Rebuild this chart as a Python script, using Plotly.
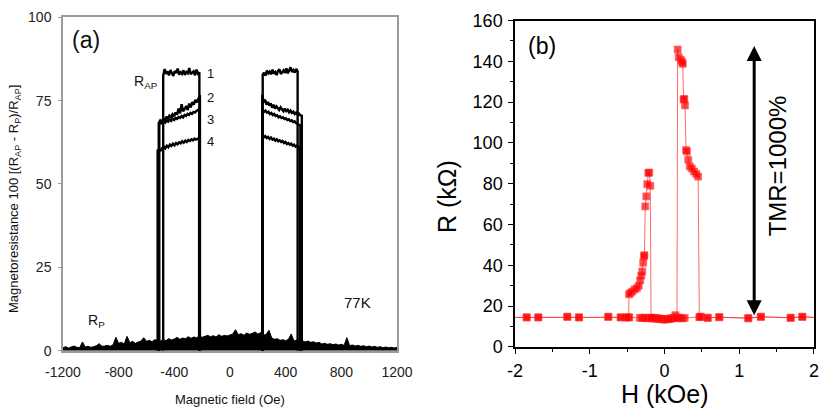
import numpy as np
import plotly.graph_objects as go

# ---------------- Panel (a) data ----------------
field_ticks = [-1200, -800, -400, 0, 400, 800, 1200]
field_tick_text = ["-1200", "-800", "-400", "0", "400", "800", "1200"]
mr_ticks = [0, 25, 50, 75, 100]
mr_tick_text = ["0", "25", "50", "75", "100"]

# parallel-state (R_P) noise band, read every 20 Oe from -1200 to 1200
rp_field = list(range(-1200, 1201, 20))
rp_level = [0.9, 1.2, 0.8, 1.1, 1.4, 1.0, 0.9, 2.6, 1.1, 1.3,
            1.0, 1.2, 1.5, 2.1, 1.3, 1.4, 1.6, 1.3, 1.8, 4.0,
            2.2, 2.5, 2.0, 4.3, 2.4, 2.8, 2.2, 2.6, 2.9, 3.9,
            2.8, 3.1, 2.7, 3.3, 3.0, 2.9, 3.4, 3.0, 3.6, 3.2,
            3.5, 4.0, 3.4, 3.8, 3.6, 4.2, 3.7, 4.1, 3.9, 4.4,
            4.0, 4.3, 4.6, 4.2, 4.5, 4.1, 4.8, 4.3, 4.6, 4.4,
            4.7, 5.0, 6.3, 4.8, 5.1, 4.6, 5.3, 4.9, 5.2, 5.6,
            5.0, 5.4, 4.6, 4.9, 6.1, 3.8, 3.4, 3.6, 3.1, 3.3,
            3.0, 3.4, 5.0, 2.9, 3.2, 2.7, 3.0, 2.6, 2.9, 2.5,
            2.7, 2.3, 2.5, 2.0, 2.2, 1.9, 2.1, 1.8, 2.0, 1.7,
            1.9, 1.6, 3.9, 1.5, 1.7, 1.4, 1.6, 1.3, 1.5, 1.2,
            1.4, 1.1, 1.3, 1.0, 1.2, 0.9, 1.1, 0.9, 1.0, 0.8, 1.0]

# antiparallel plateaus: switching fields (Oe) and MR readings across each plateau
c1_left_edges = [-480, -220]
c1_left_mr = [82.5, 84.5, 83.0, 83.8, 82.6, 84.2, 83.1, 82.4, 83.9, 83.3, 84.6, 82.8, 83.5,
              83.0, 84.1, 82.7, 83.6, 83.2, 84.8, 82.9, 83.4, 83.8, 82.6, 84.3, 83.1, 83.5]
c1_right_edges = [235, 486]
c1_right_mr = [82.8, 83.4, 82.5, 84.0, 83.2, 83.7, 82.9, 84.3, 83.1, 83.6, 82.7, 83.9, 84.4,
               83.0, 83.5, 84.1, 83.3, 84.7, 83.2, 84.0, 85.0, 83.6, 84.2, 83.4, 84.5, 83.8]
c2_left_edges = [-512, -216]
c2_left_mr = [68.3, 69.1, 68.7, 69.6, 69.0, 70.2, 69.4, 70.5, 70.0, 70.9, 70.3, 71.5, 70.8, 72.6,
              71.2, 73.9, 71.8, 72.5, 73.4, 72.2, 74.1, 73.0, 74.6, 73.8, 75.2, 74.5, 75.8, 76.6]
c2_right_edges = [232, 516]
c2_right_mr = [76.8, 74.5, 75.3, 73.8, 74.6, 73.5, 74.2, 72.9, 73.8, 72.6, 73.3, 72.8, 72.2, 73.0, 72.4,
               71.8, 72.6, 71.9, 72.3, 71.5, 72.0, 71.3, 71.7, 71.0, 71.4, 70.8, 71.1, 70.6, 70.5]
c3_left_edges = [-508, -220]
c3_left_mr = [67.8, 68.5, 68.1, 68.9, 68.4, 69.0, 68.7, 69.3, 68.9, 69.6, 69.2, 69.8, 69.5, 70.1,
              69.8, 70.4, 70.0, 70.7, 70.4, 71.0, 70.7, 71.3, 71.0, 71.6, 71.4, 71.9, 72.1, 72.4]
c3_right_edges = [234, 506]
c3_right_mr = [72.3, 71.6, 72.0, 71.4, 71.7, 71.0, 71.3, 70.7, 71.0, 70.4, 70.6, 70.0, 70.3, 69.8,
               70.0, 69.5, 69.7, 69.2, 69.4, 68.9, 69.1, 68.6, 68.8, 68.3, 68.0, 67.7, 67.5]
c4_left_edges = [-520, -222]
c4_left_mr = [60.0, 60.4, 60.1, 60.8, 61.3, 60.7, 61.5, 61.0, 61.8, 61.4, 62.1, 61.6, 62.3, 61.9,
              62.5, 62.2, 62.8, 62.4, 63.0, 62.6, 63.2, 62.9, 63.4, 63.1, 63.6, 63.3, 63.5, 63.8]
c4_right_edges = [233, 502]
c4_right_mr = [64.6, 64.0, 64.4, 63.8, 64.1, 63.5, 63.9, 63.3, 63.6, 63.0, 63.4, 62.8, 63.1, 62.6,
               62.9, 62.3, 62.6, 62.0, 62.3, 61.8, 62.1, 61.5, 61.8, 61.2, 61.5, 60.9, 61.2]
rp_switch_level = 0

# ---------------- Panel (b) data ----------------
h_ticks = [-2, -1, 0, 1, 2]
h_tick_text = ["-2", "-1", "0", "1", "2"]
r_ticks = [0, 20, 40, 60, 80, 100, 120, 140, 160]
r_tick_text = ["0", "20", "40", "60", "80", "100", "120", "140", "160"]

# sweep up (from -2 kOe to +2 kOe)
up_h = [-2.0, -1.844, -1.688, -1.30, -1.144, -0.752, -0.586, -0.506, -0.471,
        -0.33, -0.30, -0.27, -0.24, -0.21, -0.18, -0.15, -0.12, -0.09, -0.06, -0.03,
        0.0, 0.03, 0.06, 0.09, 0.12, 0.145, 0.167,
        0.176, 0.19, 0.221, 0.236, 0.244, 0.255, 0.265, 0.275, 0.288, 0.30, 0.318,
        0.338, 0.365, 0.395, 0.425, 0.45,
        0.466, 0.49, 0.578, 0.733, 1.121, 1.29, 1.688, 1.844, 2.0]
up_r = [14.5, 14.5, 14.5, 14.8, 14.5, 14.8, 14.5, 14.5, 14.5,
        14.3, 14.2, 14.4, 14.1, 14.2, 14.0, 14.1, 13.9, 13.8, 13.7, 13.6,
        13.5, 13.7, 13.8, 14.0, 14.3, 15.6, 14.6,
        145.8, 142.0, 140.7, 139.6, 138.8, 121.3, 121.6, 118.4, 96.5, 95.8, 91.8,
        88.5, 87.5, 86.0, 84.8, 83.5,
        14.6, 14.8, 14.3, 14.6, 14.1, 14.8, 14.3, 14.8, 14.5]
# sweep down (from +2 kOe to -2 kOe)
down_h = [2.0, 1.844, 1.688, 1.29, 1.121, 0.733, 0.578, 0.475,
          0.27, 0.24, 0.21, 0.18, 0.15, 0.12, 0.09, 0.06, 0.03, 0.0,
          -0.03, -0.06, -0.09, -0.12, -0.15, -0.18,
          -0.19, -0.203, -0.217, -0.23, -0.243, -0.257, -0.268, -0.275, -0.285, -0.297,
          -0.31, -0.325, -0.345, -0.37, -0.40, -0.43, -0.455, -0.475,
          -0.48, -0.506, -0.586, -0.752, -1.144, -1.30, -1.688, -1.844, -2.0]
down_r = [14.5, 14.8, 14.3, 14.8, 14.1, 14.6, 14.3, 14.8,
          14.2, 14.0, 14.3, 14.1, 14.4, 14.2, 13.9, 13.8, 13.6, 13.5,
          13.7, 13.9, 14.0, 14.2, 14.3, 14.4,
          79.0, 85.5, 85.3, 79.8, 73.8, 68.9, 45.0, 44.5, 41.3, 37.0,
          35.0, 32.6, 30.0, 28.8, 28.2, 27.2, 26.5, 25.8,
          14.5, 14.5, 14.5, 14.8, 14.5, 14.8, 14.5, 14.5, 14.5]
tmr_label = "TMR=1000%"
tmr_arrow_h = 1.2
tmr_arrow_r = [14.8, 147.5]

FONT = "Liberation Sans, Arial, Helvetica, sans-serif"
fig = go.Figure()

# ----- panel (a) traces -----
fig.add_trace(go.Scatter(x=rp_field, y=rp_level, mode="lines", fill="tozeroy",
                         fillcolor="black", line=dict(color="black", width=1),
                         xaxis="x", yaxis="y", showlegend=False, hoverinfo="skip"))

def loop_trace(edges, mr):
    h = np.linspace(edges[0], edges[1], len(mr))
    xs = [edges[0]] + list(h) + [edges[1]]
    ys = [rp_switch_level] + list(mr) + [rp_switch_level]
    return go.Scatter(x=xs, y=ys, mode="lines", line=dict(color="black", width=2.4),
                      xaxis="x", yaxis="y", showlegend=False, hoverinfo="skip")

for e, m in [(c1_left_edges, c1_left_mr), (c1_right_edges, c1_right_mr),
             (c2_left_edges, c2_left_mr), (c2_right_edges, c2_right_mr),
             (c3_left_edges, c3_left_mr), (c3_right_edges, c3_right_mr),
             (c4_left_edges, c4_left_mr), (c4_right_edges, c4_right_mr)]:
    fig.add_trace(loop_trace(e, m))

# ----- panel (b) traces -----
for hh, rr in [(up_h, up_r), (down_h, down_r)]:
    sizes = [0 if abs(v) >= 2 else 7 for v in hh]
    fig.add_trace(go.Scatter(x=hh, y=rr, mode="lines+markers",
                             line=dict(color="rgba(255,40,40,0.7)", width=1),
                             marker=dict(symbol="square", color="#ff0000", size=sizes),
                             xaxis="x2", yaxis="y2", showlegend=False, hoverinfo="skip"))

gray = "#9a9a9a"
tickfont_a = dict(family=FONT, size=14, color="#222")
tickfont_b = dict(family=FONT, size=18, color="black")

fig.update_layout(
    width=830, height=416, margin=dict(l=0, r=0, t=0, b=0, autoexpand=False),
    paper_bgcolor="white", plot_bgcolor="white",
    xaxis=dict(domain=[0.0759, 0.4783], range=[-1200, 1200], anchor="y", automargin=False,
               tickmode="array", tickvals=field_ticks, ticktext=field_tick_text,
               ticks="", showgrid=False, zeroline=False, showline=True, mirror=True,
               linecolor=gray, linewidth=1.5, tickfont=tickfont_a, ticklabelstandoff=8),
    yaxis=dict(domain=[0.157, 0.9584], range=[0, 100], anchor="x", automargin=False,
               tickmode="array", tickvals=mr_ticks, ticktext=mr_tick_text,
               ticks="outside", ticklen=3, tickcolor=gray,
               showgrid=False, zeroline=False, showline=True, mirror=True,
               linecolor=gray, linewidth=1.5, tickfont=tickfont_a, ticklabelstandoff=4),
    xaxis3=dict(overlaying="x", side="top", anchor="y", range=[-1200, 1200], automargin=False,
                tickmode="array", tickvals=field_ticks[1:-1], ticks="inside", ticklen=7,
                tickcolor=gray, showticklabels=False, showgrid=False, zeroline=False,
                showline=False),
    yaxis3=dict(overlaying="y", side="right", anchor="x", range=[0, 100], automargin=False,
                tickmode="array", tickvals=mr_ticks[1:-1], ticks="inside", ticklen=7,
                tickcolor=gray, showticklabels=False, showgrid=False, zeroline=False,
                showline=False),
    xaxis2=dict(domain=[0.6205, 0.9807], range=[-2, 2], anchor="y2", automargin=False,
                tickmode="array", tickvals=h_ticks, ticktext=h_tick_text,
                ticks="outside", ticklen=5, tickwidth=1.2, tickcolor="black",
                minor=dict(tickmode="linear", tick0=0, dtick=0.5, ticks="outside",
                           ticklen=3, tickcolor="black"),
                showgrid=False, zeroline=False, showline=True, mirror=True,
                linecolor="black", linewidth=1.5, tickfont=tickfont_b, ticklabelstandoff=2),
    yaxis2=dict(domain=[0.1659, 0.9507], range=[0, 160], anchor="x2", automargin=False,
                tickmode="array", tickvals=r_ticks, ticktext=r_tick_text,
                ticks="outside", ticklen=5, tickwidth=1.2, tickcolor="black",
                minor=dict(tickmode="linear", tick0=0, dtick=10, ticks="outside",
                           ticklen=3, tickcolor="black"),
                showgrid=False, zeroline=False, showline=True, mirror=True,
                linecolor="black", linewidth=1.5, tickfont=tickfont_b, ticklabelstandoff=2),
    xaxis4=dict(overlaying="x2", side="top", anchor="y2", range=[-2, 2], automargin=False,
                tickmode="array", tickvals=h_ticks, ticks="inside", ticklen=5,
                tickcolor="black",
                minor=dict(tickmode="linear", tick0=0, dtick=0.5, ticks="inside",
                           ticklen=3, tickcolor="black"),
                showticklabels=False, showgrid=False, zeroline=False, showline=False),
    yaxis4=dict(overlaying="y2", side="right", anchor="x2", range=[0, 160], automargin=False,
                tickmode="array", tickvals=r_ticks, ticks="inside", ticklen=5,
                tickcolor="black",
                minor=dict(tickmode="linear", tick0=0, dtick=10, ticks="inside",
                           ticklen=3, tickcolor="black"),
                showticklabels=False, showgrid=False, zeroline=False, showline=False),
)

ann = []
def txt(x, y, s, size, xref="x", yref="y", angle=0, color="#111"):
    ann.append(dict(x=x, y=y, xref=xref, yref=yref, text=s, showarrow=False,
                    textangle=angle, font=dict(family=FONT, size=size, color=color),
                    xanchor="center", yanchor="middle"))

# panel (a) labels
txt(-1034, 93.2, "(a)", 23)
txt(-600, 80.5, "R<sub>AP</sub>", 14)
txt(-137, 83.2, "1", 13)
txt(-137, 75.8, "2", 13)
txt(-137, 69.2, "3", 13)
txt(-137, 62.8, "4", 13)
txt(-962, 8.8, "R<sub>P</sub>", 14)
txt(919, 14.6, "77K", 15)
txt(14 / 830, 1 - 199 / 416,
    "Magnetoresistance 100 [(R<sub>AP</sub> - R<sub>P</sub>)/R<sub>AP</sub>]", 13,
    xref="paper", yref="paper", angle=-90)
txt(229.5 / 830, 1 - 399 / 416, "Magnetic field (Oe)", 13, xref="paper", yref="paper")

# panel (b) labels
txt(-1.64, 147.4, "(b)", 23, xref="x2", yref="y2", color="black")
txt(1.505, 89, tmr_label, 24, xref="x2", yref="y2", angle=-90, color="black")
txt(447 / 830, 1 - 197 / 416, "R (k\u03a9)", 25, xref="paper", yref="paper", angle=-90,
    color="black")
txt(665 / 830, 1 - 394 / 416, "H (kOe)", 25, xref="paper", yref="paper", color="black")

ann.append(dict(x=tmr_arrow_h, y=tmr_arrow_r[1], ax=tmr_arrow_h, ay=tmr_arrow_r[0],
                xref="x2", yref="y2", axref="x2", ayref="y2", text="", showarrow=True,
                arrowhead=2, startarrowhead=2, arrowside="end+start", arrowsize=1,
                startarrowsize=1, arrowwidth=3, arrowcolor="black"))

fig.update_layout(annotations=ann)
fig.write_html("out.html", config={"displayModeBar": False},
               post_script="document.body.style.margin='0px';")
